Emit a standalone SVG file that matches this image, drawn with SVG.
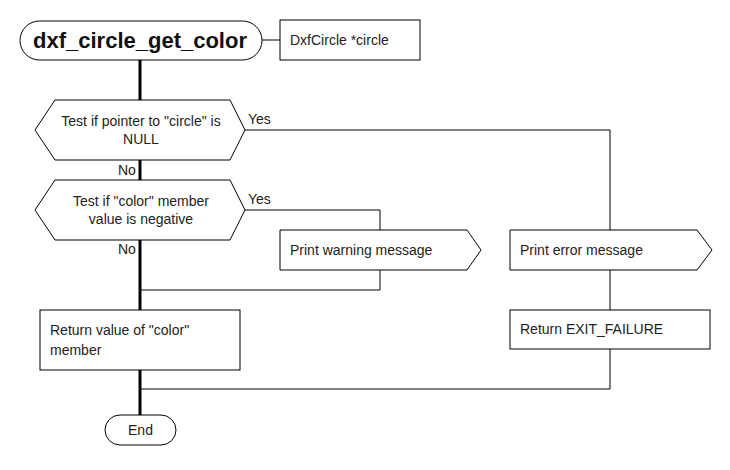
<svg xmlns="http://www.w3.org/2000/svg" width="730" height="470" viewBox="0 0 730 470">
  <style>
    .shape { fill: #ffffff; stroke: #000000; stroke-width: 1; }
    .flow { fill: none; stroke: #000000; stroke-width: 1; }
    .main { fill: none; stroke: #000000; stroke-width: 3; }
    text { font-family: "Liberation Sans", Arial, sans-serif; font-size: 14px; fill: #222222; }
    .title { font-size: 22px; font-weight: bold; fill: #111111; }
    .mid { text-anchor: middle; }
  </style>
  <rect width="730" height="470" fill="#ffffff"/>

  <g id="connectors">
    <line class="flow" x1="262" y1="40" x2="280" y2="40"/>
    <line class="main" x1="140" y1="60" x2="140" y2="100"/>
    <line class="main" x1="140" y1="160" x2="140" y2="180"/>
    <line class="main" x1="140" y1="240" x2="140" y2="310"/>
    <line class="main" x1="140" y1="370" x2="140" y2="415"/>
    <polyline class="flow" points="245,130 610,130 610,230"/>
    <polyline class="flow" points="245,210 380,210 380,230"/>
    <polyline class="flow" points="380,270 380,290 140,290"/>
    <line class="flow" x1="610" y1="270" x2="610" y2="310"/>
    <polyline class="flow" points="610,349 610,389 140,389"/>
    <text x="248" y="124">Yes</text>
    <text x="118" y="175">No</text>
    <text x="248" y="204">Yes</text>
    <text x="118" y="254">No</text>
  </g>

  <g id="start">
    <rect class="shape" x="20" y="21" width="242" height="39" rx="19.5" ry="19.5"/>
    <text class="title mid" x="140" y="48">dxf_circle_get_color</text>
  </g>

  <g id="param">
    <rect class="shape" x="280" y="20" width="140" height="40"/>
    <text x="290" y="45">DxfCircle *circle</text>
  </g>

  <g id="test-null">
    <polygon class="shape" points="35,130 55,100 230,100 245,130 230,160 55,160"/>
    <text class="mid" x="141" y="126">Test if pointer to "circle" is</text>
    <text class="mid" x="141" y="144">NULL</text>
  </g>

  <g id="test-negative">
    <polygon class="shape" points="35,210 55,180 230,180 245,210 230,240 55,240"/>
    <text class="mid" x="141" y="206">Test if "color" member</text>
    <text class="mid" x="141" y="224">value is negative</text>
  </g>

  <g id="print-warning">
    <polygon class="shape" points="280,230 467,230 481,250 467,270 280,270"/>
    <text x="290" y="255">Print warning message</text>
  </g>

  <g id="print-error">
    <polygon class="shape" points="510,230 697,230 712,250 697,270 510,270"/>
    <text x="520" y="255">Print error message</text>
  </g>

  <g id="return-color">
    <rect class="shape" x="40" y="310" width="200" height="60"/>
    <text x="50" y="335">Return value of "color"</text>
    <text x="50" y="355">member</text>
  </g>

  <g id="return-failure">
    <rect class="shape" x="510" y="310" width="200" height="39"/>
    <text x="520" y="334">Return EXIT_FAILURE</text>
  </g>

  <g id="end">
    <rect class="shape" x="105" y="415" width="71" height="30" rx="15" ry="15"/>
    <text class="mid" x="140.5" y="435">End</text>
  </g>
</svg>
